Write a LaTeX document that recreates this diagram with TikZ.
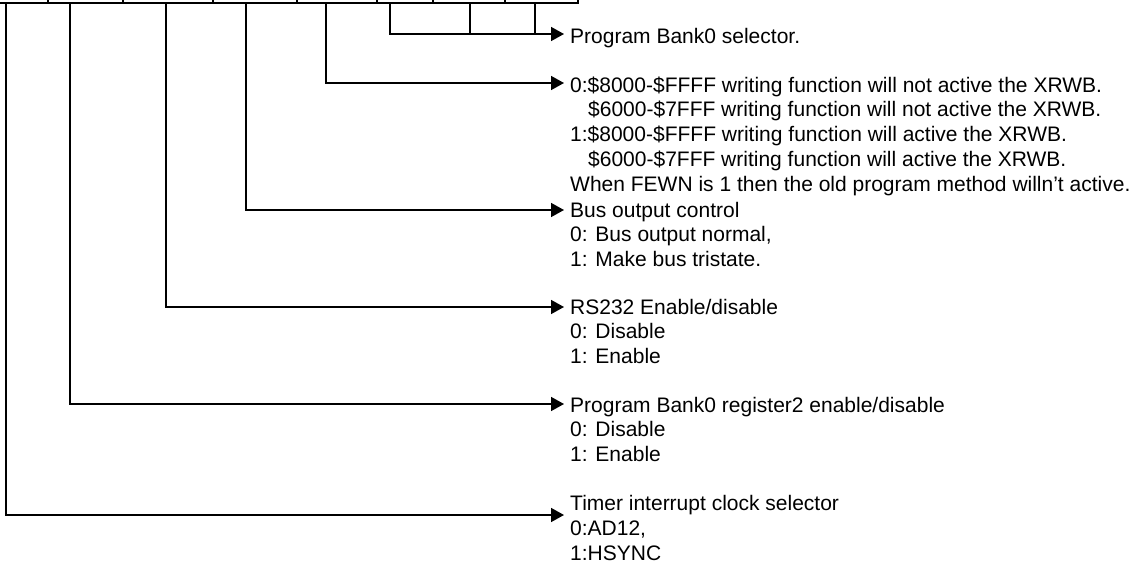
\documentclass[tikz,border=0pt]{standalone}
\usepackage{fontspec}
\setmainfont{Liberation Sans}
\usetikzlibrary{arrows.meta}
\begin{document}
\begin{tikzpicture}[x=1pt,y=-1pt,
  wire/.style={line width=1.6pt, line join=miter},
  feed/.style={wire, -{Triangle[length=13pt,width=14pt]}},
  desc/.style={anchor=base west, align=left, inner sep=0pt,
    font=\fontsize{21}{24.8}\selectfont}]
\useasboundingbox (0,0) rectangle (1146,563);

% bottom edge of the register bit cells
\draw[wire] (-2,3) -- (578,3) -- (578,-2);
\foreach \x in {48,123,213,297,377,433,505}
  \draw[wire] (\x,-2) -- (\x,3);

% bit taps on the register
\coordinate (bit0) at (535,3);
\coordinate (bit1) at (470,3);
\coordinate (bit2) at (390,3);
\coordinate (bit3) at (326,3);
\coordinate (bit4) at (246,3);
\coordinate (bit5) at (166,3);
\coordinate (bit6) at (70,3);
\coordinate (bit7) at (6,3);

% arrow tips in front of the descriptions
\coordinate (t0) at (564,34);
\coordinate (t1) at (564,83);
\coordinate (t2) at (564,210);
\coordinate (t3) at (564,307);
\coordinate (t4) at (564,404);
\coordinate (t5) at (564,515);

% descriptions (each placed by the baseline of its last line)
\node[desc] (sel) at (570,43) {Program Bank0 selector.};
\node[desc] (few) at (570,191.2) {0:\$8000-\$FFFF writing function will not active the XRWB.\\
\hspace*{18pt}\$6000-\$7FFF writing function will not active the XRWB.\\
1:\$8000-\$FFFF writing function will active the XRWB.\\
\hspace*{18pt}\$6000-\$7FFF writing function will active the XRWB.\\
When FEWN is 1 then the old program method willn’t active.};
\node[desc] (bus) at (570,266.6) {Bus output control\\0: Bus output normal,\\1: Make bus tristate.};
\node[desc] (rs) at (570,363.6) {RS232 Enable/disable\\0: Disable\\1: Enable};
\node[desc] (reg) at (570,461.6) {Program Bank0 register2 enable/disable\\0: Disable\\1: Enable};
\node[desc] (tmr) at (570,560.1) {Timer interrupt clock selector\\0:AD12,\\1:HSYNC};

% connectors
\draw[feed] (bit2) |- (t0);
\draw[wire] (bit1) -- (bit1 |- t0);
\draw[wire] (bit0) -- (bit0 |- t0);
\draw[feed] (bit3) |- (t1);
\draw[feed] (bit4) |- (t2);
\draw[feed] (bit5) |- (t3);
\draw[feed] (bit6) |- (t4);
\draw[feed] (bit7) |- (t5);
\end{tikzpicture}
\end{document}
